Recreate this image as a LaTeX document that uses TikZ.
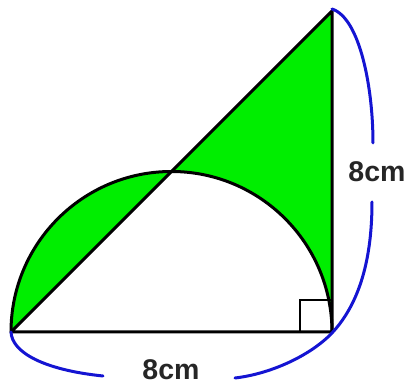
\documentclass[tikz,border=0pt]{standalone}
\usepackage{fontspec}
\setmainfont{Liberation Sans}
\definecolor{fillgreen}{RGB}{0,238,0}
\definecolor{dimblue}{RGB}{20,20,210}
\begin{document}
\begin{tikzpicture}[x=1pt,y=1pt,
  edge/.style={draw=black,line width=3pt,line join=round,line cap=round},
  region/.style={fill=fillgreen},
  dimline/.style={draw=dimblue,line width=3pt,line cap=round},
  label/.style={font=\fontsize{28.5}{29}\selectfont\bfseries,text=black!85,inner sep=0pt}]
\useasboundingbox (0,0) rectangle (408,388);
\coordinate (A) at (11,56);
\coordinate (B) at (332,56);
\coordinate (C) at (332,377);
\coordinate (P) at (171.5,216.5);
% green regions
\fill[region] (A) arc[start angle=180,end angle=90,radius=160.5] -- cycle;
\fill[region] (P) -- (C) -- (B) arc[start angle=0,end angle=90,radius=160.5] -- cycle;
% right-angle mark
\draw[line width=2pt] (300,56) rectangle (332,88);
% triangle and semicircle
\draw[edge] (A) -- (B) -- (C) -- cycle;
\draw[edge] (B) arc[start angle=0,end angle=180,radius=160.5];
% dimension curves
\draw[dimline] (332,379) .. controls (360,370) and (373,300) .. (373,245);
\draw[dimline] (372,186) .. controls (372,130) and (360,85) .. (332,55)
                         .. controls (310,32) and (270,14) .. (235,10);
\draw[dimline] (103,12) .. controls (45,18) and (12,35) .. (A);
% labels
\node[label] (rightlabel) at (377,216) {8cm};
\node[label] (bottomlabel) at (171,18) {8cm};
\end{tikzpicture}
\end{document}
